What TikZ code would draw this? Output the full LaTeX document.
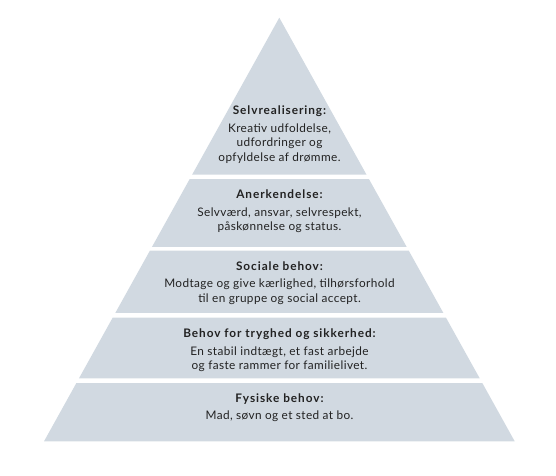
\documentclass[tikz,border=0pt]{standalone}
\usepackage{fontspec}
\setmainfont[LetterSpace=3.4]{Lato}
\newfontfamily\headfont[LetterSpace=8]{Lato}
\usepackage{xcolor}
\usetikzlibrary{calc, positioning}
\definecolor{bandcolor}{HTML}{D1D9E1}
\definecolor{textcolor}{HTML}{222222}

\begin{document}
\begin{tikzpicture}[
    x=1pt, y=1pt,
    band/.style={fill=bandcolor, draw=none},
    title/.style={font=\fontsize{11.8}{14.7}\headfont\bfseries, text=textcolor, inner sep=0pt, anchor=base},
    body/.style={font=\fontsize{11.8}{14.7}\selectfont, text=textcolor, align=center, inner sep=0pt, anchor=base}
]
    % Canvas
    \useasboundingbox (0, 0) rectangle (556, 475);

    % Pyramid outline
    \coordinate (apex) at (279.3, 457.3);
    \coordinate (bl) at (44, 33.7);
    \coordinate (br) at (514.7, 33.7);

    % Bands, top to bottom (fractions along the sides)
    \foreach \a/\b in {0/0.3706, 0.3808/0.5413, 0.5500/0.6971, 0.7082/0.8513, 0.8624/1}
        \fill[band] ($(apex)!\a!(bl)$) -- ($(apex)!\b!(bl)$) -- ($(apex)!\b!(br)$) -- ($(apex)!\a!(br)$) -- cycle;

    % Selvrealisering (body base = last line)
    \node[title] (selv) at (279.5, 361) {Selvrealisering:};
    \node[body] (selvtxt) at ($(selv.base)+(0,-47.4)$) {Kreativ udfoldelse,\\udfordringer og\\opfyldelse af drømme.};

    % Anerkendelse
    \node[title] (aner) at (279.5, 276.7) {Anerkendelse:};
    \node[body] (anertxt) at ($(aner.base)+(0,-32.4)$) {Selvværd, ansvar, selvrespekt,\\påskønnelse og status.};

    % Sociale behov
    \node[title] (soc) at (279.5, 205) {Sociale behov:};
    \node[body] (soctxt) at ($(soc.base)+(0,-32.2)$) {Modtage og give kærlighed, tilhørsforhold\\til en gruppe og social accept.};

    % Tryghed
    \node[title] (tryg) at (279.5, 137.8) {Behov for tryghed og sikkerhed:};
    \node[body] (trygtxt) at ($(tryg.base)+(0,-32.5)$) {En stabil indtægt, et fast arbejde\\og faste rammer for familielivet.};

    % Fysiske behov
    \node[title] (fys) at (279.5, 72.6) {Fysiske behov:};
    \node[body] (fystxt) at ($(fys.base)+(0,-17.2)$) {Mad, søvn og et sted at bo.};
\end{tikzpicture}
\end{document}
